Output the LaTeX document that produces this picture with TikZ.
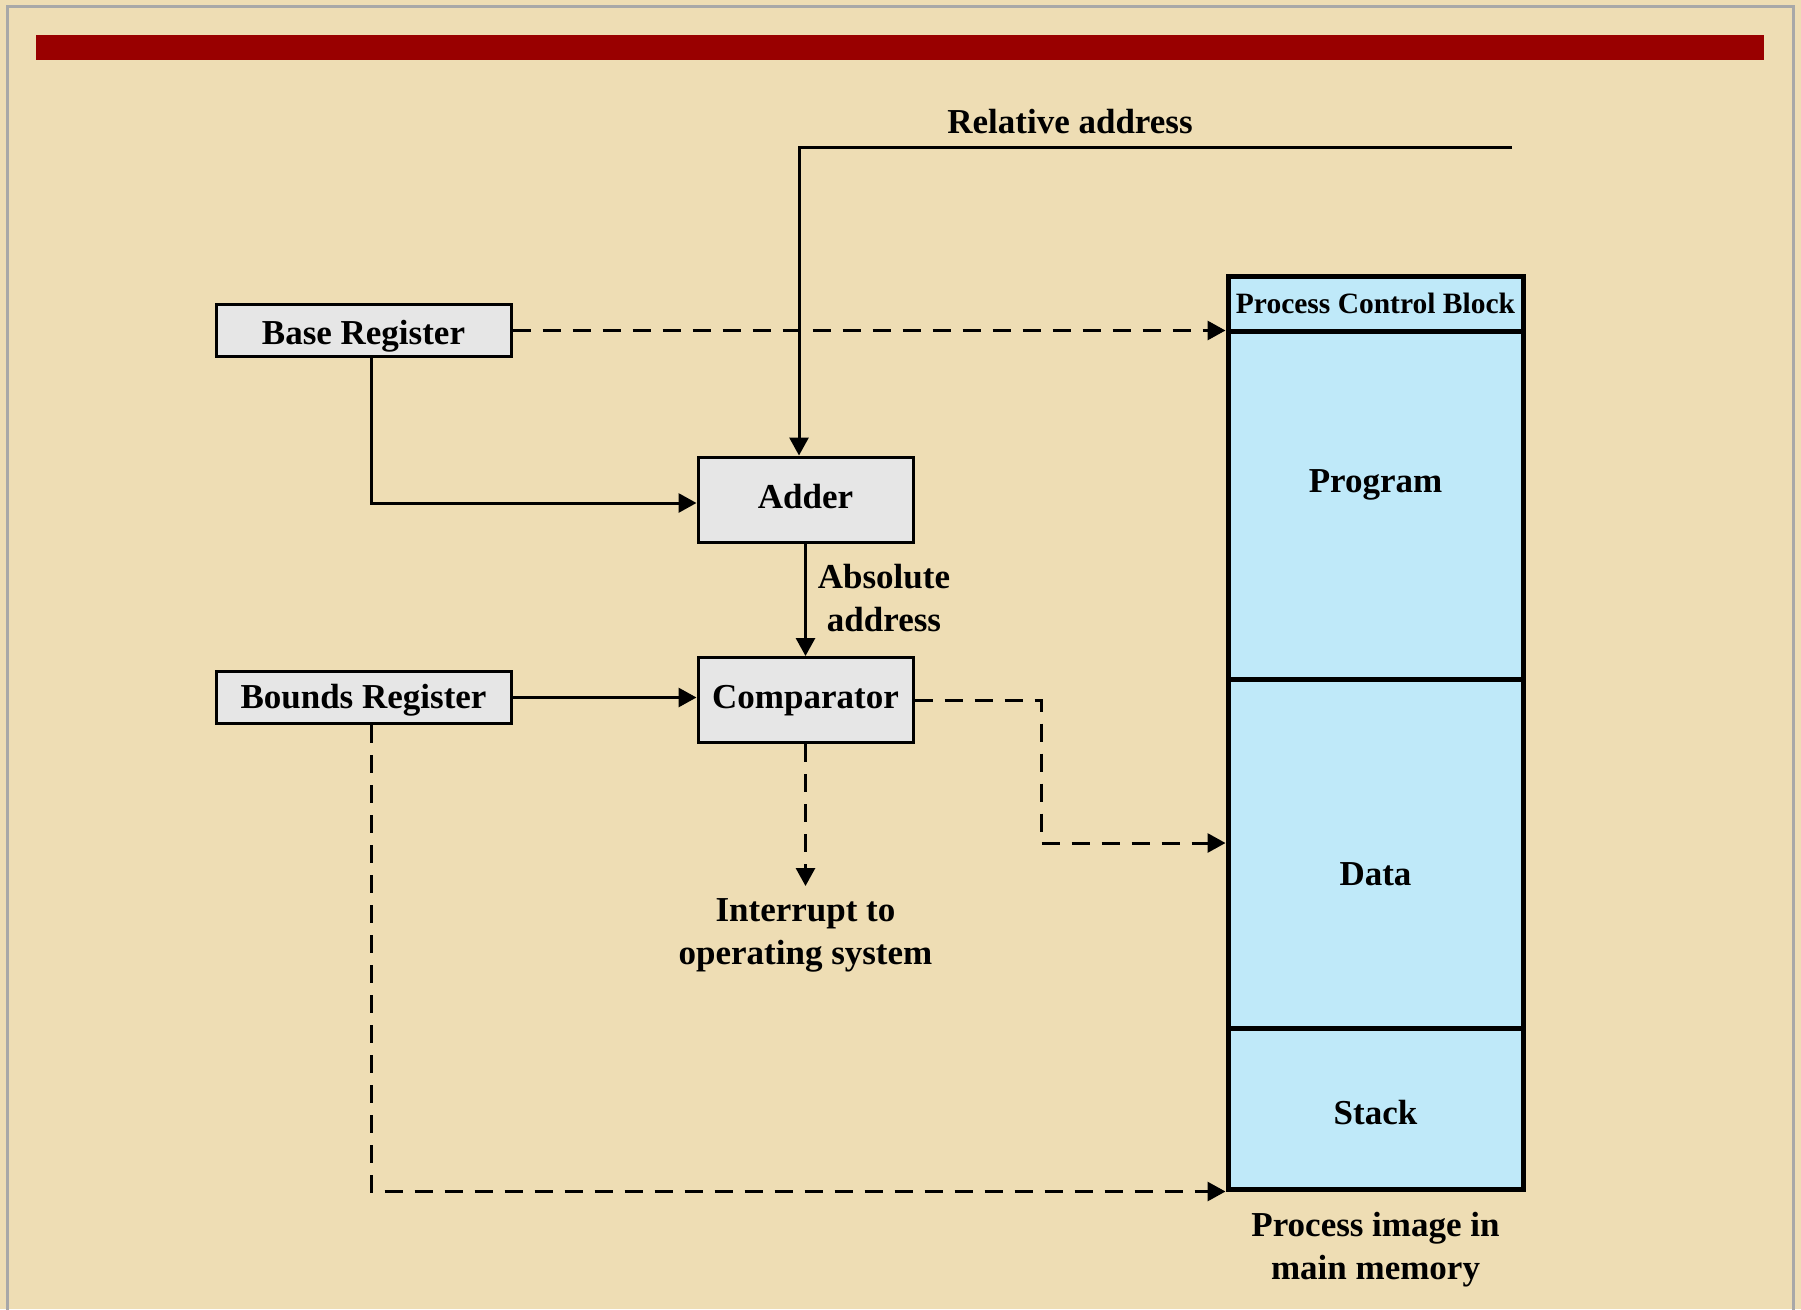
\documentclass[tikz,border=0pt]{standalone}
\usepackage{fontspec}
\setmainfont{Liberation Serif}
\usetikzlibrary{arrows.meta,calc}

\definecolor{parchment}{RGB}{238,221,180}
\definecolor{framegray}{RGB}{168,168,168}
\definecolor{titlered}{RGB}{153,0,0}
\definecolor{boxgray}{RGB}{230,230,230}
\definecolor{memblue}{RGB}{191,233,249}

% lower a label inside its node without changing the node's size
\newcommand{\lowerby}[2]{\raisebox{-#1}[\height][\depth]{#2}}

\tikzset{
  every node/.style={font=\fontsize{35}{43}\selectfont\bfseries, inner sep=0pt, align=center},
  regbox/.style={draw=black, line width=3pt, fill=boxgray, minimum width=295pt, minimum height=52pt},
  unitbox/.style={draw=black, line width=3pt, fill=boxgray, minimum width=215pt, minimum height=85pt},
  memsec/.style={draw=black, line width=5pt, fill=memblue, minimum width=295pt},
  tip/.style={-{Triangle[length=18pt,width=19pt]}},
  flow/.style={tip, line width=3pt},
  dflow/.style={tip, line width=3pt, dash pattern=on 18pt off 12pt},
}

\begin{document}
\begin{tikzpicture}[x=1pt, y=-1pt]
  % page background, frame and title rule
  \fill[parchment] (0,0) rectangle (1801,1309);
  \useasboundingbox (0,0) rectangle (1801,1309);
  \draw[framegray, line width=3pt] (7,1320) -- (7,6) -- (1793,6) -- (1793,1320);
  \fill[titlered] (36,35) rectangle (1764,60);

  % registers and arithmetic units
  \node[regbox]  (base)   at (363.5,330.5) {\lowerby{6pt}{Base Register}};
  \node[regbox]  (bounds) at (363.5,697.5) {\lowerby{3pt}{Bounds Register}};
  \node[unitbox] (adder)  at (805.5,499.5) {\lowerby{-2.5pt}{Adder}};
  \node[unitbox] (comp)   at (805.5,700)   {\lowerby{1pt}{Comparator}};

  % process image in main memory
  \node[memsec, minimum height=348pt] (prog)  at (1375.5,505)   {};
  \node[memsec, minimum height=349pt] (data)  at (1375.5,853.5) {};
  \node[memsec, minimum height=161pt] (stack) at (1375.5,1108.5) {};
  \node[memsec, minimum height=55pt]  (pcb)   at (1375.5,303.5) {};
  \node (pcbtext)   at (pcb)            {\fontsize{29.5}{35}\selectfont Process Control Block};
  \node (progtext)  at (1375.5,484.5)   {Program};
  \node (datatext)  at (1375.5,874)     {Data};
  \node (stacktext) at (1375.5,1113)    {Stack};
  \node (caption)   at (1375.5,1249.5)  {Process image in\\main memory};

  % labels
  \node (rellabel) at (1070,122) {Relative address};
  \node (abslabel) at (884,598)  {Absolute\\address};
  \node (intr)     at (805.5,935.5) {Interrupt to\\operating system};

  % connection points
  \coordinate (relstart)  at (1512,147);
  \coordinate (relcorner) at (799,147);
  \coordinate (cmpcorner) at (1041,843);
  \coordinate (intrtip)   at (805.5,886);

  % solid data paths
  \draw[flow] (relstart) -- (relcorner) -- (relcorner |- adder.north);
  \draw[flow] ([xshift=7.5pt]base.south) |- ([yshift=-3.5pt]adder.west);
  \draw[flow] (adder.south) -- (comp.north);
  \draw[flow] (bounds.east) -- (bounds.east -| comp.west);

  % dashed paths
  \draw[dflow] (base.east) -- (base.east -| pcb.south west);
  \draw[dflow] (comp.east) -| (cmpcorner) -- (cmpcorner -| data.west);
  \draw[dflow] (comp.south) -- (intrtip);
  \draw[dflow] ([xshift=7.5pt]bounds.south) |- (stack.south west);
\end{tikzpicture}
\end{document}
